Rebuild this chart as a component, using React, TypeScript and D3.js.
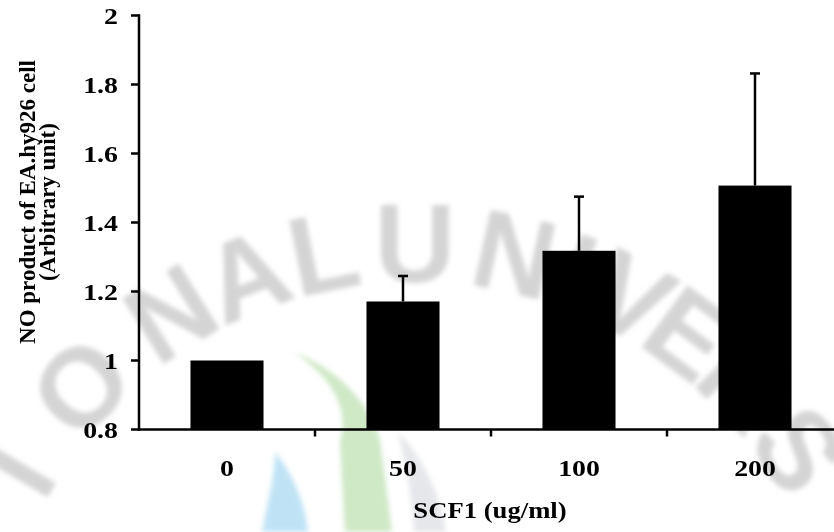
import React from "react";
import * as d3 from "d3";

// SCF1 concentrations (ug/ml) and NO production relative to control
const categories = ["0", "50", "100", "200"];
const means = [1.0, 1.171, 1.318, 1.507];
const errors = [0, 0.074, 0.157, 0.325];
const yTicks = [0.8, 1, 1.2, 1.4, 1.6, 1.8, 2];

const W = 834;
const H = 532;
const FONT = "'Liberation Serif', 'Times New Roman', serif";
const SX = 1.16; // horizontal stretch of the upright labels

// Background seal: letters of the institution name set around a circle
const sealLetters = ["I", "O", "N", "A", "L", "U", "N", "I", "V", "E", "R", "S"];
const sealAngles = [149.5, 136.5, 122, 111.5, 101.5, 90, 77.5, 69.5, 62, 53.5, 44, 33.5];
const sealCx = 415;
const sealCy = 704;
const sealR = 462;

function Seal() {
  const rad = (a: number) => (a * Math.PI) / 180;
  return (
    <g filter="url(#soft)">
      {sealLetters.map((ch, i) => {
        const a = sealAngles[i];
        const px = sealCx + sealR * Math.cos(rad(a));
        const py = sealCy - sealR * Math.sin(rad(a));
        return (
          <text
            key={i}
            transform={`translate(${px},${py}) rotate(${90 - a})`}
            dy="0.36em"
            textAnchor="middle"
            fontFamily="'Liberation Sans', Arial, sans-serif"
            fontWeight="bold"
            fontSize={112}
            fill="#d4d4d4"
          >
            {ch}
          </text>
        );
      })}
      <path
        d="M293,352 C332,376 350,410 340,442 L345,532 L392,532 L380,440 C368,398 332,366 293,352 Z"
        fill="#cfe8c6"
      />
      <path
        d="M275,452 C290,470 305,500 308,532 L262,532 C268,500 275,475 275,452 Z"
        fill="#bfe3f5"
      />
      <path
        d="M398,432 C422,457 440,492 446,532 L414,532 C412,497 406,465 398,432 Z"
        fill="#e6e7eb"
      />
    </g>
  );
}

export default function App() {
  const x = d3
    .scaleBand<string>()
    .domain(categories)
    .range([139, 843])
    .paddingInner(0.585)
    .paddingOuter(0.2925);
  const y = d3.scaleLinear().domain([0.8, 2]).range([429.5, 15.5]);

  const step = x.step();
  const boundaries = categories.map((_, i) => x.range()[0] + step * (i + 1));
  const axisX0 = 139;
  const axisY0 = y(0.8);

  return (
    <svg
      width={W}
      height={H}
      style={{ position: "absolute", left: 0, top: 0, background: "#fff" }}
      fontFamily={FONT}
      fontWeight="bold"
    >
      <defs>
        <filter id="soft" x="-10%" y="-10%" width="120%" height="120%">
          <feGaussianBlur stdDeviation={2.5} />
        </filter>
      </defs>
      <rect width={W} height={H} fill="#fff" />
      <Seal />

      {/* bars */}
      {categories.map((c, i) => (
        <rect
          key={c}
          x={x(c)}
          y={y(means[i])}
          width={x.bandwidth()}
          height={y(0.8) - y(means[i])}
          fill="#000"
        />
      ))}

      {/* upper error bars */}
      {categories.map((c, i) => {
        if (!errors[i]) return null;
        const cx = (x(c) as number) + x.bandwidth() / 2;
        const top = y(means[i] + errors[i]);
        return (
          <g key={"e" + c} stroke="#000" strokeWidth={2.5}>
            <line x1={cx} x2={cx} y1={y(means[i])} y2={top} />
            <line x1={cx - 5} x2={cx + 5} y1={top} y2={top} />
          </g>
        );
      })}

      {/* y axis */}
      <g stroke="#000" strokeWidth={2.5}>
        <line x1={axisX0} x2={axisX0} y1={y(2) - 1.2} y2={axisY0 + 1.2} />
        {yTicks.map((t) => (
          <line key={t} x1={axisX0 - 8} x2={axisX0} y1={y(t)} y2={y(t)} />
        ))}
      </g>
      {yTicks.map((t) => (
        <text
          key={"yl" + t}
          transform={`translate(118,${y(t)}) scale(${SX},1)`}
          dy="0.35em"
          textAnchor="end"
          fontSize={24}
        >
          {String(t)}
        </text>
      ))}

      {/* x axis */}
      <g stroke="#000" strokeWidth={2.5}>
        <line x1={axisX0} x2={W + 10} y1={axisY0} y2={axisY0} />
        {boundaries.map((b, i) => (
          <line key={i} x1={b} x2={b} y1={axisY0} y2={axisY0 + 7} />
        ))}
      </g>
      {categories.map((c) => (
        <text
          key={"xl" + c}
          transform={`translate(${(x(c) as number) + x.bandwidth() / 2},476) scale(${SX},1)`}
          textAnchor="middle"
          fontSize={24}
        >
          {c}
        </text>
      ))}

      {/* axis titles */}
      <text transform={`translate(490,518) scale(${SX},1)`} textAnchor="middle" fontSize={23}>
        SCF1 (ug/ml)
      </text>
      <g transform="translate(35,202) rotate(-90)">
        <text x={0} y={0} textAnchor="middle" fontSize={23}>
          NO product of EA.hy926 cell
        </text>
        <text x={0} y={20} textAnchor="middle" fontSize={23}>
          (Arbitrary unit)
        </text>
      </g>
    </svg>
  );
}
